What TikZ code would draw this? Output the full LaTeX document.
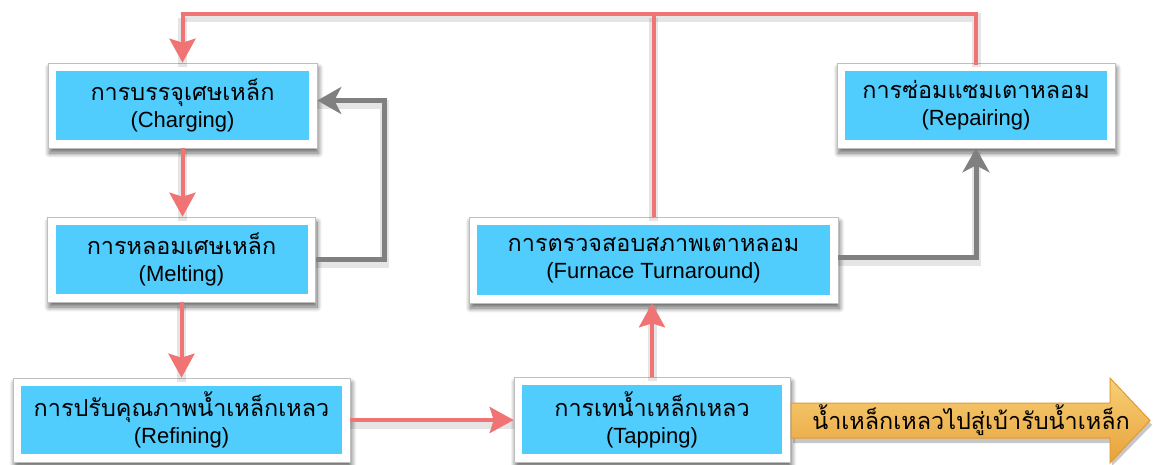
\documentclass[tikz,border=0pt]{standalone}
\usepackage{fontspec}
\setmainfont{Liberation Sans}
\newfontfamily\thai[Script=Thai,Scale=1.064]{Loma}
\usetikzlibrary{arrows.meta,shadows.blur}

\definecolor{boxblue}{HTML}{50CCFD}
\definecolor{flowred}{HTML}{F07474}
\definecolor{loopgray}{HTML}{808080}
\definecolor{outtop}{HTML}{F8D077}
\definecolor{outbot}{HTML}{E7A23B}
\definecolor{outedge}{HTML}{E09A35}

\begin{document}
\begin{tikzpicture}[x=1pt,y=-1pt,
  stage/.style={draw=black!25, line width=0.6pt, fill=white, inner sep=0pt,
    align=center, font=\fontsize{22}{27}\selectfont,
    blur shadow={shadow xshift=1.5pt, shadow yshift=-5pt, shadow blur steps=10,
      shadow blur radius=5pt, shadow opacity=60},
    path picture={\fill[boxblue]
      ([xshift=8pt,yshift=-8pt]path picture bounding box.north west) rectangle
      ([xshift=-8pt,yshift=8pt]path picture bounding box.south east);}},
  haze/.style={preaction={draw=black, draw opacity=0.10, line width=9pt, -,
    transform canvas={yshift=-4pt}}},
  flow/.style={draw=flowred, line width=4pt},
  flowarrow/.style={flow, -{Stealth[length=24pt,width=26pt,inset=4pt]}},
  loopline/.style={draw=loopgray, line width=5pt,
    -{Stealth[length=24pt,width=27pt,inset=7pt]}}]
\useasboundingbox (0,0) rectangle (1153,464);

% process stages
\node[stage, minimum width=269pt, minimum height=85pt] (charging) at (182.5,105.5)
  {{\thai การบรรจุเศษเหล็ก}\\(Charging)};
\node[stage, minimum width=268pt, minimum height=85pt] (melting) at (181.5,259.5)
  {{\thai การหลอมเศษเหล็ก}\\(Melting)};
\node[stage, minimum width=337pt, minimum height=84pt] (refining) at (181.5,420)
  {{\thai การปรับคุณภาพน้ำเหล็กเหลว}\\(Refining)};
\node[stage, minimum width=276pt, minimum height=85pt] (tapping) at (652,419.5)
  {{\thai การเทน้ำเหล็กเหลว}\\(Tapping)};
\node[stage, minimum width=369pt, minimum height=86pt] (furnace) at (653.5,260)
  {{\thai การตรวจสอบสภาพเตาหลอม}\\(Furnace Turnaround)};
\node[stage, minimum width=278pt, minimum height=85pt] (repairing) at (976,105.5)
  {{\thai การซ่อมแซมเตาหลอม}\\(Repairing)};

% corners of the return line along the top
\coordinate (tl) at (182.5,13.5);
\coordinate (tr) at (976,13.5);

% main flow
\draw[flowarrow, haze] (charging.south) -- (melting.north -| charging.south);
\draw[flowarrow, haze] (melting.south) -- (refining.north -| melting.south);
\draw[flowarrow, haze] (refining.east) -- (refining.east -| tapping.west);
\draw[flowarrow, haze] (tapping.north) -- (tapping.north |- furnace.south);

% return to charging
\draw[flow, haze, line cap=rect] (repairing.north) -- (tr) -- (tl);
\draw[flow, haze] (furnace.north) -- (furnace.north |- tl);
\draw[flowarrow, haze] (tl) -- (charging.north);

% loops
\draw[loopline, haze] (melting.east) -- ++(69,0) |- ([yshift=5pt]charging.east);
\draw[loopline, haze] ([yshift=3pt]furnace.east) -| (repairing.south);

% molten steel to the ladle
\fill[black, opacity=0.22] (793,408) -- (1112,408) -- (1112,384) -- (1152,425)
  -- (1112,466) -- (1112,443) -- (793,443) -- cycle;
\shade[top color=outtop, bottom color=outbot, draw=outedge, line width=1pt]
  (791,403) -- (1110,403) -- (1110,378) -- (1150,420.5) -- (1110,463)
  -- (1110,438) -- (791,438) -- cycle;
\node[font=\fontsize{22}{24}\selectfont\thai, inner sep=0pt] (ladle) at (971,420.5)
  {น้ำเหล็กเหลวไปสู่เบ้ารับน้ำเหล็ก};
\end{tikzpicture}
\end{document}
